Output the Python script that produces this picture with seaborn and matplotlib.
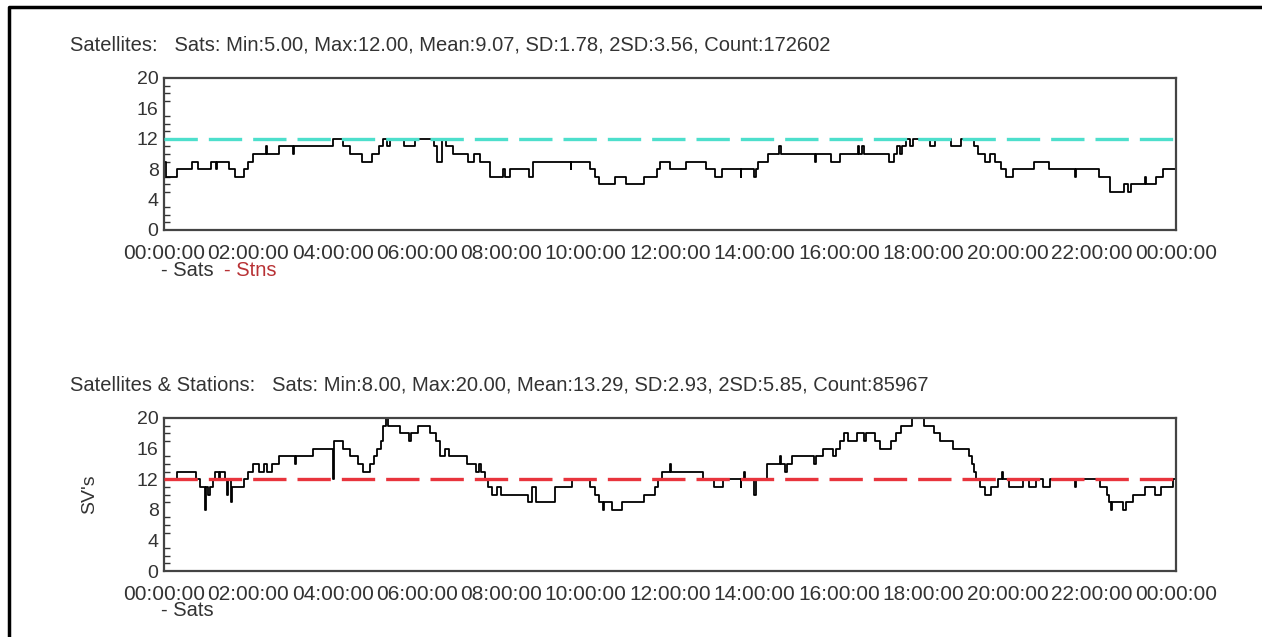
import numpy as np
import pandas as pd
import seaborn as sns
import matplotlib.pyplot as plt
from matplotlib.lines import Line2D
from matplotlib.ticker import MultipleLocator

# satellites only (hours since midnight, number of SVs)
sats_hours = [0.00, 0.05, 0.30, 0.66, 0.80, 1.12, 1.22, 1.25, 1.53, 1.68, 1.90, 2.00, 2.10,
              2.42, 2.44, 2.72, 3.06, 3.08, 4.00, 4.25, 4.42, 4.70, 4.93, 5.10, 5.20, 5.28,
              5.36, 5.69, 5.94, 6.40, 6.47, 6.58, 6.68, 6.85, 7.20, 7.35, 7.50, 7.73, 8.03,
              8.08, 8.20, 8.66, 8.76, 9.64, 9.66, 10.10, 10.23, 10.32, 10.70, 10.95, 11.38,
              11.68, 11.75, 12.00, 12.38, 12.85, 13.06, 13.23, 13.67, 13.69, 14.00, 14.03,
              14.08, 14.33, 14.58, 14.62, 15.43, 15.47, 15.81, 16.03, 16.45, 16.48, 16.55,
              16.60, 17.20, 17.30, 17.38, 17.45, 17.50, 17.60, 17.68, 17.76, 18.17, 18.29,
              18.65, 18.90, 19.20, 19.29, 19.46, 19.58, 19.71, 19.84, 19.97, 20.14, 20.64,
              20.98, 21.60, 21.62, 22.17, 22.42, 22.76, 22.85, 22.93, 23.25, 23.28, 23.53,
              23.69, 24.00]
sats_count = [9, 7, 8, 9, 8, 9, 8, 9, 8, 7, 8, 9, 10,
              11, 10, 11, 10, 11, 12, 11, 10, 9, 10, 11, 12, 11,
              12, 11, 12, 11, 9, 12, 11, 10, 9, 10, 9, 7, 8,
              7, 8, 7, 9, 8, 9, 8, 7, 6, 7, 6, 7,
              8, 9, 8, 9, 8, 7, 8, 7, 8, 7, 8,
              9, 10, 11, 10, 9, 10, 9, 10, 11, 10, 11,
              10, 9, 10, 11, 10, 11, 12, 11, 12, 11, 12,
              11, 12, 11, 10, 9, 10, 9, 8, 7, 8, 9,
              8, 7, 8, 7, 5, 6, 5, 6, 7, 6, 7,
              8, 8]

# satellites and stations
stns_hours = [0.00, 0.30, 0.76, 0.85, 0.97, 0.99, 1.05, 1.10, 1.15, 1.20, 1.30, 1.33, 1.45,
              1.50, 1.52, 1.58, 1.60, 1.90, 2.00, 2.12, 2.25, 2.38, 2.45, 2.55, 2.72, 3.10,
              3.12, 3.52, 4.00, 4.03, 4.25, 4.42, 4.60, 4.71, 4.88, 4.97, 5.05, 5.14, 5.18,
              5.27, 5.31, 5.60, 5.80, 5.86, 6.03, 6.30, 6.45, 6.54, 6.67, 6.75, 7.18, 7.39,
              7.47, 7.52, 7.60, 7.69, 7.77, 7.90, 7.98, 8.62, 8.72, 8.82, 9.26, 9.68, 10.10,
              10.23, 10.32, 10.40, 10.43, 10.62, 10.87, 11.38, 11.63, 11.72, 11.80, 12.00,
              12.03, 12.78, 13.03, 13.25, 13.67, 13.69, 13.75, 13.78, 14.00, 14.03, 14.30,
              14.60, 14.63, 14.73, 14.77, 14.90, 15.40, 15.45, 15.62, 15.87, 15.94, 16.04,
              16.13, 16.21, 16.42, 16.59, 16.64, 16.85, 16.97, 17.23, 17.36, 17.48, 17.74,
              18.03, 18.25, 18.40, 18.71, 19.09, 19.15, 19.20, 19.26, 19.35, 19.47, 19.60,
              19.77, 19.86, 19.90, 20.03, 20.37, 20.50, 20.67, 20.85, 21.00, 21.59, 21.62,
              22.19, 22.36, 22.40, 22.45, 22.48, 22.75, 22.80, 22.98, 23.25, 23.50, 23.63,
              23.92, 24.00]
stns_count = [12, 13, 12, 11, 8, 11, 10, 11, 12, 13, 12, 13, 12,
              10, 12, 9, 11, 12, 13, 14, 13, 14, 13, 14, 15, 14,
              15, 16, 12, 17, 16, 15, 14, 13, 14, 15, 16, 17, 19,
              20, 19, 18, 17, 18, 19, 18, 17, 15, 16, 15, 14, 13,
              14, 13, 12, 11, 10, 11, 10, 9, 11, 9, 11, 12, 11,
              10, 9, 8, 9, 8, 9, 10, 11, 12, 13, 14,
              13, 12, 11, 12, 11, 12, 13, 12, 10, 12, 14,
              15, 14, 13, 14, 15, 14, 15, 16, 15, 16, 17,
              18, 17, 18, 17, 18, 17, 16, 17, 18, 19, 20,
              19, 18, 17, 16, 15, 14, 13, 12, 11, 10, 11,
              12, 13, 12, 11, 12, 11, 12, 11, 12, 11, 12,
              11, 10, 9, 8, 9, 8, 9, 10, 11, 10, 11,
              12, 12]

titles = ["Satellites:   Sats: Min:5.00, Max:12.00, Mean:9.07, SD:1.78, 2SD:3.56, Count:172602",
          "Satellites & Stations:   Sats: Min:8.00, Max:20.00, Mean:13.29, SD:2.93, 2SD:5.85, Count:85967"]
ref_level = 12
time_labels = ["00:00:00", "02:00:00", "04:00:00", "06:00:00", "08:00:00", "10:00:00", "12:00:00",
               "14:00:00", "16:00:00", "18:00:00", "20:00:00", "22:00:00", "00:00:00"]

sns.set_style("white")
plt.rcParams["font.family"] = ["Liberation Sans", "DejaVu Sans"]
text_col = "#333333"

fig = plt.figure(figsize=(12.62, 6.37), dpi=100)
ax1 = fig.add_axes([0.130, 0.639, 0.802, 0.2386])
ax2 = fig.add_axes([0.130, 0.1036, 0.802, 0.2402])

df1 = pd.DataFrame({"hour": sats_hours, "sats": sats_count})
df2 = pd.DataFrame({"hour": stns_hours, "sats": stns_count})

for ax, df, ref_col in [(ax1, df1, "#4ddfcc"), (ax2, df2, "#e8343c")]:
    sns.lineplot(data=df, x="hour", y="sats", ax=ax, color="black", linewidth=1.3,
                 drawstyle="steps-post", estimator=None, sort=False, zorder=2)
    ax.axhline(ref_level, color=ref_col, linewidth=2.4, dashes=(10, 3.3), zorder=3)
    ax.set_xlim(0, 24)
    ax.set_ylim(0, 20)
    ax.set_xticks(range(0, 25, 2))
    ax.set_xticklabels(time_labels)
    ax.set_yticks(range(0, 21, 4))
    ax.yaxis.set_minor_locator(MultipleLocator(1))
    ax.tick_params(axis="x", direction="in", length=8, width=1.2, color="#333333",
                   labelsize=15, pad=10, labelcolor=text_col, top=False)
    ax.tick_params(axis="y", which="major", direction="in", length=6, width=1.2,
                   color="#333333", labelsize=14, pad=4, labelcolor=text_col, right=False)
    ax.tick_params(axis="y", which="minor", direction="in", length=4, width=1.0,
                   color="#333333", left=True, right=False)
    ax.set_xlabel("")
    ax.set_ylabel("")
    for s in ax.spines.values():
        s.set_color("#444444")
        s.set_linewidth(1.6)
        s.set_visible(True)

ax2.set_ylabel("SV's", fontsize=14, color=text_col, labelpad=28)

fig.text(70 / 1262, 1 - 45 / 637, titles[0], fontsize=14.5, color=text_col, va="center")
fig.text(70 / 1262, 1 - 385 / 637, titles[1], fontsize=14.5, color=text_col, va="center")

fig.text(161 / 1262, 1 - 271 / 637, "- Sats", fontsize=14.5, color=text_col, va="center")
fig.text(224 / 1262, 1 - 271 / 637, "- Stns", fontsize=14.5, color="#b83235", va="center")
fig.text(161 / 1262, 1 - 611 / 637, "- Sats", fontsize=14.5, color=text_col, va="center")

# outer frame (top and left edge of the original screenshot)
fig.add_artist(Line2D([9 / 1262, 9 / 1262, 1.0], [0.0, 1 - 7 / 637, 1 - 7 / 637],
                      transform=fig.transFigure, color="black", linewidth=2.5))

fig.savefig("out.png", dpi=100, facecolor="white")
